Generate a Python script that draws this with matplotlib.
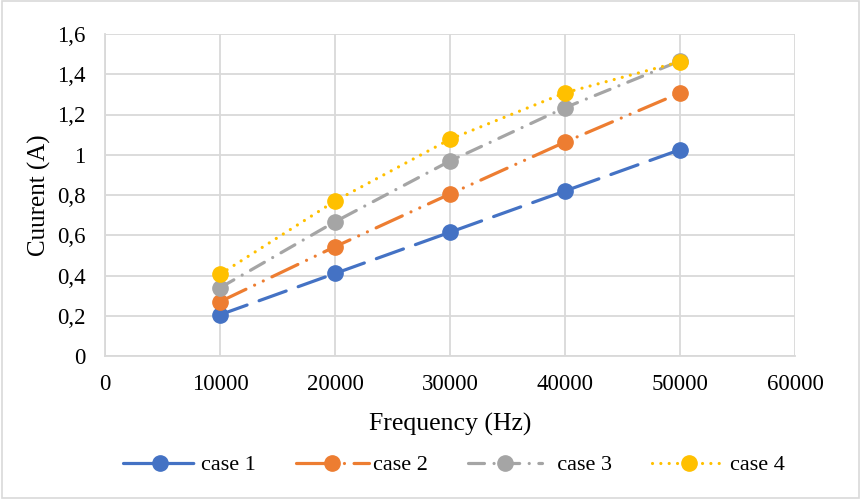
import matplotlib
matplotlib.use("Agg")
import matplotlib.pyplot as plt
from matplotlib.patches import Rectangle

freq = [10000, 20000, 30000, 40000, 50000]
case1 = [0.205, 0.41, 0.615, 0.82, 1.025]
case2 = [0.27, 0.543, 0.805, 1.063, 1.307]
case3 = [0.339, 0.667, 0.969, 1.234, 1.466]
case4 = [0.406, 0.770, 1.077, 1.308, 1.462]
labels = ["case 1", "case 2", "  case 3", "case 4"]
colors = ["#4472C4", "#ED7D31", "#A5A5A5", "#FFC000"]
dashes = [(9, 4), (9, 3, 0.01, 3, 0.01, 3), (5, 3, 0.01, 3), (0.01, 2.6)]

plt.rcParams['font.family'] = ['Liberation Serif', 'DejaVu Serif']

fig = plt.figure(figsize=(8.61, 4.99), dpi=100)
ax = fig.add_axes([105/861, 1-356/499, (795-105)/861, (356-34)/499])

series = [case1, case2, case3, case4]
for ys, lab, c, d in zip(series, labels, colors, dashes):
    ln, = ax.plot(freq, ys, color=c, lw=2.3, marker='o', markersize=11,
                  label=lab, dash_capstyle='round', solid_capstyle='round', zorder=3)
    ln.set_dashes(d)

ax.set_xlim(0, 60000)
ax.set_ylim(0, 1.6)
ax.set_xticks(range(0, 60001, 10000))
ax.set_yticks([0, 0.2, 0.4, 0.6, 0.8, 1.0, 1.2, 1.4, 1.6])
ax.set_yticklabels(["0", "0,2", "0,4", "0,6", "0,8", "1", "1,2", "1,4", "1,6"])
ax.set_xticklabels([str(v) for v in range(0, 60001, 10000)])
ax.tick_params(length=0, labelsize=16.5, colors='black')
ax.tick_params(axis='x', pad=13)
ax.tick_params(axis='y', pad=14)
ax.grid(True, color='#D9D9D9', lw=1.3)
ax.set_axisbelow(True)
for s in ['top', 'right']:
    ax.spines[s].set_visible(False)
for s in ['left', 'bottom']:
    ax.spines[s].set_color('#D9D9D9')
    ax.spines[s].set_linewidth(1.3)

ax.set_xlabel("Frequency (Hz)", fontsize=18.5, labelpad=13)
ax.set_ylabel("Cuurent (A)", fontsize=18, labelpad=4)

leg = fig.legend(loc='center', bbox_to_anchor=(0.527, 1-465/499), ncol=4, frameon=False,
                 fontsize=16, handlelength=3.3, columnspacing=1.8, handletextpad=0.2)

fig.add_artist(Rectangle((0.002, 0.003), 0.996, 0.994, transform=fig.transFigure,
                         fill=False, edgecolor='#D9D9D9', lw=1.2))

fig.savefig("out.png", dpi=100)
